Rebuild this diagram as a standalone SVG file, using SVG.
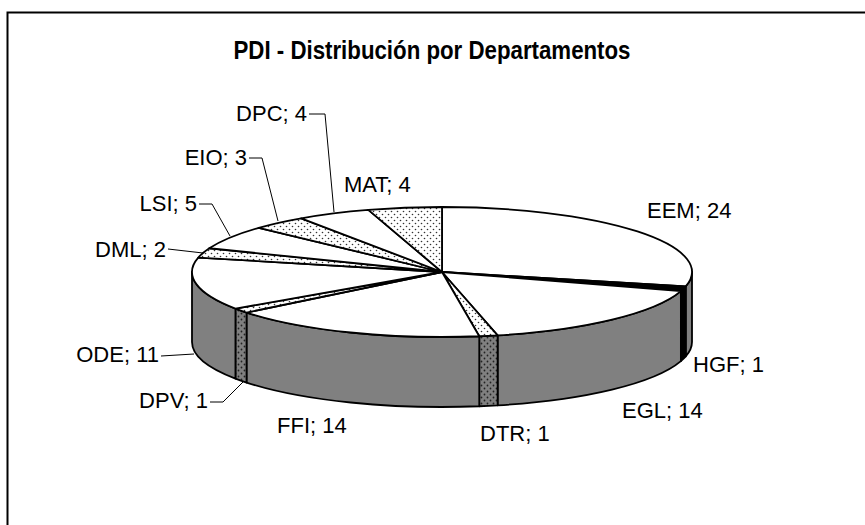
<svg xmlns="http://www.w3.org/2000/svg" width="865" height="525" viewBox="0 0 865 525">
<defs>
<pattern id="dotTop" width="6" height="6" patternUnits="userSpaceOnUse">
<rect width="6" height="6" fill="#ffffff"/>
<circle cx="1.5" cy="1.5" r="0.8" fill="#333333"/>
<circle cx="4.5" cy="4.5" r="0.8" fill="#333333"/>
</pattern>
<pattern id="dotSide" width="6" height="6" patternUnits="userSpaceOnUse">
<rect width="6" height="6" fill="#808080"/>
<circle cx="1.5" cy="1.5" r="0.9" fill="#222222"/>
<circle cx="4.5" cy="4.5" r="0.9" fill="#222222"/>
</pattern>
</defs>
<style>
.edge{stroke:#000;stroke-width:1.8;stroke-linejoin:round}
.white{fill:#ffffff}
.grey{fill:#808080}
.black{fill:#000000}
.dt{fill:url(#dotTop)}
.ds{fill:url(#dotSide)}
.lbl{font-family:"Liberation Sans",Arial,sans-serif;font-size:22px;fill:#000}
.lead{fill:none;stroke:#000;stroke-width:1}
</style>
<rect x="0" y="0" width="865" height="525" fill="#ffffff"/>
<rect x="7.5" y="12.5" width="900" height="600" fill="#ffffff" stroke="#000" stroke-width="2"/>
<text x="432" y="59" text-anchor="middle" textLength="397" lengthAdjust="spacingAndGlyphs" style="font-family:'Liberation Sans',Arial,sans-serif;font-size:26px;font-weight:bold">PDI - Distribución por Departamentos</text>

<g id="EEM">
<path class="edge grey" d="M692,272 A250,65 0 0 1 685.73,286.46 L685.73,356.46 A250,65 0 0 0 692,342 Z"/>
<path class="edge white" d="M442,272 L442,207 A250,65 0 0 1 685.73,286.46 Z"/>
<text class="lbl" x="647" y="218">EEM; 24</text>
</g>
<g id="HGF">
<path class="edge black" d="M685.73,286.46 A250,65 0 0 1 680.89,291.16 L680.89,361.16 A250,65 0 0 0 685.73,356.46 Z"/>
<path class="edge black" d="M442,272 L685.73,286.46 A250,65 0 0 1 680.89,291.16 Z"/>
<text class="lbl" x="693" y="372">HGF; 1</text>
</g>
<g id="EGL">
<path class="edge grey" d="M680.89,291.16 A250,65 0 0 1 497.63,335.37 L497.63,405.37 A250,65 0 0 0 680.89,361.16 Z"/>
<path class="edge white" d="M442,272 L680.89,291.16 A250,65 0 0 1 497.63,335.37 Z"/>
<text class="lbl" x="622" y="418">EGL; 14</text>
</g>
<g id="DTR">
<path class="edge ds" d="M497.63,335.37 A250,65 0 0 1 479.26,336.27 L479.26,406.27 A250,65 0 0 0 497.63,405.37 Z"/>
<path class="edge dt" d="M442,272 L497.63,335.37 A250,65 0 0 1 479.26,336.27 Z"/>
<text class="lbl" x="480" y="441">DTR; 1</text>
</g>
<g id="FFI">
<path class="edge grey" d="M479.26,336.27 A250,65 0 0 1 246.54,312.53 L246.54,382.53 A250,65 0 0 0 479.26,406.27 Z"/>
<path class="edge white" d="M442,272 L479.26,336.27 A250,65 0 0 1 246.54,312.53 Z"/>
<text class="lbl" x="277" y="433">FFI; 14</text>
</g>
<g id="DPV">
<path class="edge ds" d="M246.54,312.53 A250,65 0 0 1 235.44,308.62 L235.44,378.62 A250,65 0 0 0 246.54,382.53 Z"/>
<path class="edge dt" d="M442,272 L246.54,312.53 A250,65 0 0 1 235.44,308.62 Z"/>
<text class="lbl" x="208" y="408" text-anchor="end">DPV; 1</text>
</g>
<g id="ODE">
<path class="edge grey" d="M235.44,308.62 A250,65 0 0 1 192,272 L192,342 A250,65 0 0 0 235.44,378.62 Z"/>
<path class="edge white" d="M442,272 L235.44,308.62 A250,65 0 0 1 198.27,257.54 Z"/>
<text class="lbl" x="159" y="362" text-anchor="end">ODE; 11</text>
</g>
<g id="DML">
<path class="edge dt" d="M442,272 L198.27,257.54 A250,65 0 0 1 209.28,248.25 Z"/>
<text class="lbl" x="166" y="257" text-anchor="end">DML; 2</text>
</g>
<g id="LSI">
<path class="edge white" d="M442,272 L209.28,248.25 A250,65 0 0 1 258.74,227.79 Z"/>
<text class="lbl" x="197" y="211" text-anchor="end">LSI; 5</text>
</g>
<g id="EIO">
<path class="edge dt" d="M442,272 L258.74,227.79 A250,65 0 0 1 301.17,218.29 Z"/>
<text class="lbl" x="247" y="165" text-anchor="end">EIO; 3</text>
</g>
<g id="DPC">
<path class="edge white" d="M442,272 L301.17,218.29 A250,65 0 0 1 368.31,209.89 Z"/>
<text class="lbl" x="307" y="121" text-anchor="end">DPC; 4</text>
</g>
<g id="MAT">
<path class="edge dt" d="M442,272 L368.31,209.89 A250,65 0 0 1 442,207 Z"/>
<text class="lbl" x="344" y="192">MAT; 4</text>
</g>

<g id="connectors">
<polyline class="lead" points="309,114 325,114 334,212"/>
<polyline class="lead" points="249,158 262,158 278,221"/>
<polyline class="lead" points="199,204 212,204 230,236"/>
<polyline class="lead" points="168,249 203,253"/>
<polyline class="lead" points="161,356 194,354"/>
<polyline class="lead" points="210,402 223,402 243,382"/>
</g>
</svg>
